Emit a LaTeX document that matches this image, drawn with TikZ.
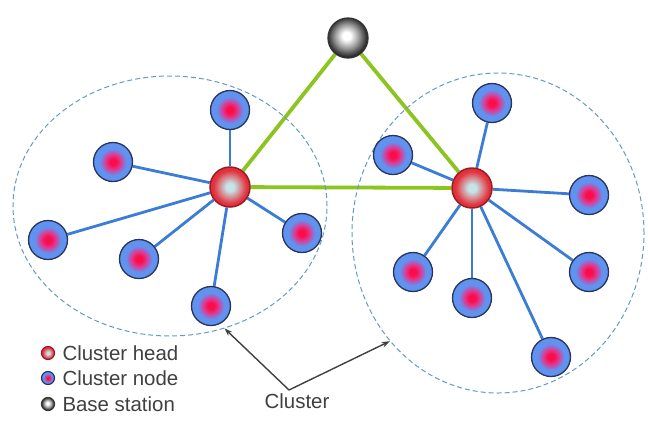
\documentclass[tikz,border=0pt]{standalone}
\usepackage{fontspec}
\setmainfont{Liberation Sans}
\usetikzlibrary{shapes.geometric,backgrounds,arrows.meta}

\definecolor{linkblue}{RGB}{58,124,214}
\definecolor{upgreen}{RGB}{140,196,32}
\definecolor{ringblue}{RGB}{104,152,196}
\definecolor{membred}{RGB}{252,12,72}
\definecolor{membmid}{RGB}{220,60,150}
\definecolor{membblue}{RGB}{96,146,240}
\definecolor{membrim}{RGB}{40,52,92}
\definecolor{headred}{RGB}{228,48,58}
\definecolor{headcore}{RGB}{196,228,232}
\definecolor{headrim}{RGB}{150,28,36}
\definecolor{textgray}{RGB}{64,64,64}

\pgfdeclareradialshading{membershade}{\pgfpointorigin}{color(0bp)=(membred); color(4bp)=(membred); color(10bp)=(membmid); color(17bp)=(membblue); color(25bp)=(membblue); color(50bp)=(membblue)}
\pgfdeclareradialshading{headshade}{\pgfpointorigin}{color(0bp)=(headcore); color(5bp)=(headcore); color(21bp)=(headred); color(25bp)=(headred); color(50bp)=(headred)}
\pgfdeclareradialshading{stationshade}{\pgfpoint{-2bp}{3bp}}{color(0bp)=(white); color(5bp)=(white); color(15bp)=(black!40); color(25bp)=(black!85); color(50bp)=(black)}

\begin{document}
\begin{tikzpicture}[x=1bp, y=-1bp, font=\fontsize{20.5}{24}\selectfont, text=textgray]
    \tikzset{
        member/.style={circle, draw=membrim, line width=1.3bp, shading=membershade, minimum size=39bp, inner sep=0},
        head/.style={circle, draw=headrim, line width=1.5bp, shading=headshade, minimum size=40bp, inner sep=0},
        station/.style={circle, draw=black!80, line width=1.3bp, shading=stationshade, minimum size=40bp, inner sep=0},
        link/.style={linkblue, line width=2.8bp},
        uplink/.style={upgreen, line width=3.8bp},
        clusterring/.style={ellipse, draw=ringblue, line width=1bp, dash pattern=on 5bp off 3bp, inner sep=0},
        pointer/.style={-{Stealth[length=8bp, width=5.5bp]}, black!75, line width=1.4bp},
        keydot/.style={minimum size=13bp, line width=1.2bp}
    }
    \useasboundingbox (0,0) rectangle (648,420);

    % Clusters
    \node[clusterring, minimum width=314bp, minimum height=260bp] (lclu) at (170,206) {};
    \node[clusterring, minimum width=292bp, minimum height=320bp] (rclu) at (498,233) {};

    % Base station and cluster heads
    \node[station] (bs) at (348,38) {};
    \node[head] (lh) at (230,187) {};
    \node[head] (rh) at (472,188) {};

    % Left cluster nodes
    \foreach \x/\y [count=\i] in {230/110, 113/162, 48/240, 139/259, 211/306, 302/233} {
        \node[member] (lm\i) at (\x,\y) {};
    }

    % Right cluster nodes
    \foreach \x/\y [count=\i] in {492/103, 393/155, 589/195, 413/272, 472/298, 589/272, 551/357} {
        \node[member] (rm\i) at (\x,\y) {};
    }

    % Links
    \begin{scope}[on background layer]
        \foreach \i in {1,...,6} {
            \draw[link] (lh) -- (lm\i);
        }
        \foreach \i in {1,...,7} {
            \draw[link] (rh) -- (rm\i);
        }
        \draw[uplink] (bs) -- (lh);
        \draw[uplink] (bs) -- (rh);
        \draw[uplink] (lh) -- (rh);
    \end{scope}

    % Cluster label
    \node (clab) at (297,401) {Cluster};
    \coordinate (cj) at (289,390);
    \draw[pointer] (cj) -- (lclu.-66);
    \draw[pointer] (cj) -- (rclu.225);

    % Legend
    \node[head, keydot] (khead) at (48,353) {};
    \node[member, keydot] (kmember) at (48,378) {};
    \node[station, keydot] (kstation) at (48,404) {};
    \node[anchor=west] at (59,353) {Cluster head};
    \node[anchor=west] at (59,378) {Cluster node};
    \node[anchor=west] at (59,404) {Base station};
\end{tikzpicture}
\end{document}
